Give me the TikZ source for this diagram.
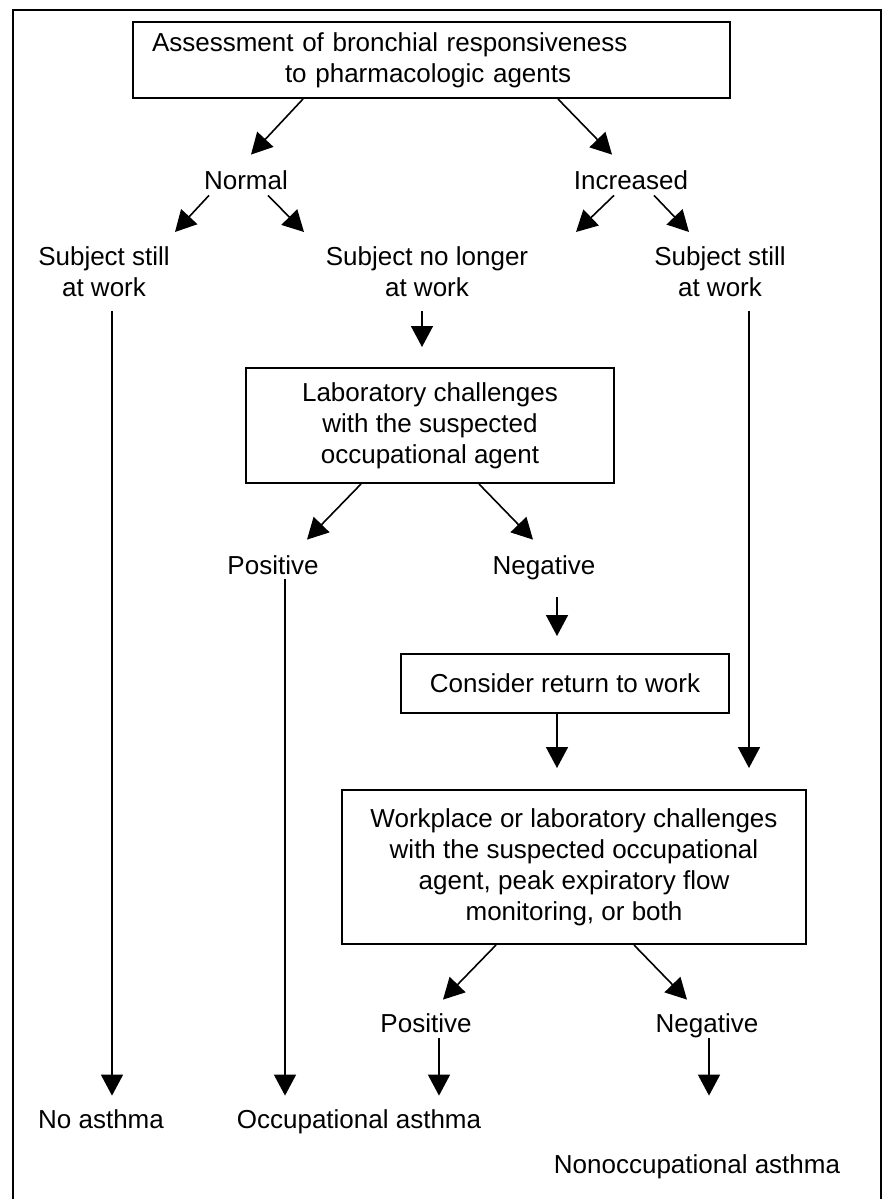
\documentclass[tikz,border=0pt]{standalone}
\usepackage{fontspec}
\setmainfont{Liberation Sans}
\usetikzlibrary{arrows.meta, calc}
\tikzstyle{testbox} = [rectangle, draw=black, line width=1pt, align=center, inner sep=0pt, font=\fontsize{13}{15.5}\selectfont]
\tikzstyle{result} = [inner sep=0pt, text height=9.5pt, text depth=2.5pt, font=\fontsize{13}{15.5}\selectfont]
\tikzstyle{result2} = [inner sep=0pt, align=center, anchor=north, font=\fontsize{13}{15.5}\selectfont]
\tikzstyle{signal} = [draw=black, line width=0.8pt, -{Triangle[length=10.5pt, width=11pt]}]
\begin{document}
\begin{tikzpicture}[x=0.5pt, y=-0.5pt]
\useasboundingbox (0,0) rectangle (884,1199);

% Outer frame
\draw[line width=1pt] (13,1199) -- (13,10) -- (881,10) -- (881,1199);

% Test boxes
\node (assessment) [testbox, align=left, text width=279.5pt, inner xsep=9.5pt, minimum height=38pt] at (431.5,60) {Assessment of bronchial responsiveness\\\hspace*{66.5pt}to pharmacologic agents};
\node (labchall) [testbox, minimum width=184pt, minimum height=57.5pt] at (430,425.5) {Laboratory challenges\\with the suspected\\occupational agent};
\node (consider) [testbox, minimum width=164pt, minimum height=29.5pt] at (565,683.5) {Consider return to work};
\node (workchall) [testbox, minimum width=232pt, minimum height=77pt] at (574,867) {Workplace or laboratory challenges\\with the suspected occupational\\agent, peak expiratory flow\\monitoring, or both};

% Results and outcomes
\node (normal) [result] at (246,182) {Normal};
\node (increased) [result] at (631,182) {Increased};
\node (still_l) [result2] at (104,246) {Subject still\\at work};
\node (nolonger) [result2] at (427,246) {Subject no longer\\at work};
\node (still_r) [result2] at (720,246) {Subject still\\at work};
\node (pos_lab) [result] at (273,567) {Positive};
\node (neg_lab) [result] at (544,567) {Negative};
\node (pos_work) [result] at (426,1025) {Positive};
\node (neg_work) [result] at (707,1025) {Negative};
\node (noasthma) [result] at (101,1121) {No asthma};
\node (occasthma) [result] at (359,1121) {Occupational asthma};
\node (nonocc) [result] at (697,1166) {Nonoccupational asthma};

% Connections
\draw [signal] ($(assessment.south)+(-128.5,0)$) -- ($(normal.north)+(5,-15)$);
\draw [signal] ($(assessment.south)+(126.5,0)$) -- ($(increased.north)+(-19,-15)$);
\draw [signal] ($(normal.south)+(-37,1)$) -- ($(still_l.north)+(71,-14)$);
\draw [signal] ($(normal.south)+(22,1)$) -- ($(nolonger.north)+(-123,-14)$);
\draw [signal] ($(increased.south)+(-17,1)$) -- ($(nolonger.north)+(149,-14)$);
\draw [signal] ($(increased.south)+(23,1)$) -- ($(still_r.north)+(-31,-14)$);
\draw [signal] ($(still_l.south)+(8,14)$) -- ($(noasthma.north)+(11,-13)$);
\draw [signal] ($(nolonger.south)+(-5,14)$) -- ($(labchall.north)+(-8,-20)$);
\draw [signal] ($(still_r.south)+(29,14)$) -- ($(workchall.north)+(175,-21)$);
\draw [signal] ($(labchall.south)+(-69,0)$) -- ($(pos_lab.north)+(34,-15)$);
\draw [signal] ($(labchall.south)+(49,0)$) -- ($(neg_lab.north)+(-11,-15)$);
\draw [signal] ($(pos_lab.south)+(12,0)$) -- ($(occasthma.north)+(-74,-13)$);
\draw [signal] ($(neg_lab.south)+(13,18)$) -- ($(consider.north)+(-8,-17)$);
\draw [signal] ($(consider.south)+(-8,0)$) -- ($(workchall.north)+(-17,-21)$);
\draw [signal] ($(workchall.south)+(-78,0)$) -- ($(pos_work.north)+(17,-13)$);
\draw [signal] ($(workchall.south)+(60,0)$) -- ($(neg_work.north)+(-20,-13)$);
\draw [signal] ($(pos_work.south)+(13,1)$) -- ($(occasthma.north)+(80,-13)$);
\draw [signal] ($(neg_work.south)+(2,1)$) -- ($(nonocc.north)+(12,-58)$);

\end{tikzpicture}
\end{document}
